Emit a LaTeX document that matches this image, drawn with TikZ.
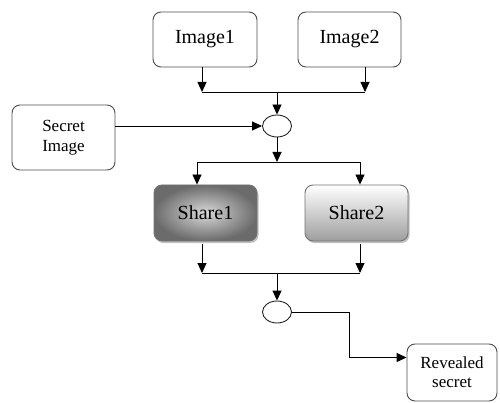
\documentclass[tikz,border=0pt]{standalone}
\usepackage{fontspec}
\setmainfont{Liberation Serif}
\newfontfamily\boxfont{Liberation Serif}
\usetikzlibrary{arrows.meta, shapes.geometric, shadows}

\begin{document}
\begin{tikzpicture}[x=1pt, y=-1pt, >={Triangle[length=10pt, width=9pt]}, line width=0.9pt,
  box/.style={draw=black!70, rounded corners=8pt, minimum width=104pt, minimum height=55pt,
    align=center, font=\boxfont\fontsize{20}{22}\selectfont},
  smallbox/.style={box, minimum width=103pt, minimum height=65pt, font=\boxfont\fontsize{17}{20}\selectfont},
  sharebox/.style={box, draw=black!55, minimum height=56pt, minimum width=103pt,
    drop shadow={shadow xshift=1.5pt, shadow yshift=-2pt, opacity=0.35, fill=black!70}},
  joint/.style={draw=black!85, ellipse, minimum width=29pt, minimum height=22pt, inner sep=0pt}]
  \useasboundingbox (0,0) rectangle (500,403);
  % cajas
  \node[box] (img1) at (205,39.5) {Image1};
  \node[box, minimum width=103pt] (img2) at (349.5,39.5) {Image2};
  \node[smallbox] (secret) at (63.5,137.5) {Secret\\Image};
  \node[joint] (xor1) at (277,126) {};
  \node[sharebox, inner color=black!15, outer color=black!58] (share1) at (205.5,213) {Share1};
  \node[sharebox, top color=white, bottom color=black!38] (share2) at (356.5,213) {Share2};
  \node[joint] (xor2) at (277,312) {};
  \node[smallbox, minimum width=90pt, minimum height=57pt, font=\boxfont\fontsize{17}{19}\selectfont] (reveal) at (452,372.5) {Revealed\\secret};
  % puntos de union
  \coordinate (a1) at (202,92);
  \coordinate (a2) at (365,92);
  \coordinate (m1) at (277,92);
  \coordinate (b1) at (197,162);
  \coordinate (b2) at (360,162);
  \coordinate (m2) at (277,162);
  \coordinate (c1) at (202,273);
  \coordinate (c2) at (360,273);
  \coordinate (m3) at (277,273);
  % flechas de arriba
  \draw[->] (a1 |- img1.south) -- (a1);
  \draw[->] (a2 |- img2.south) -- (a2);
  \draw (a1) -- (a2);
  \draw[->] (m1) -- (xor1.north);
  \draw[->] (secret.east |- xor1) -- (xor1.west);
  % reparto
  \draw[->] (xor1.south) -- (m2);
  \draw (b1) -- (b2);
  \draw[->] (b1) -- (b1 |- share1.north);
  \draw[->] (b2) -- (b2 |- share2.north);
  % union de las partes
  \draw[->, shorten <=3pt] (c1 |- share1.south) -- (c1);
  \draw[->, shorten <=3pt] (c2 |- share2.south) -- (c2);
  \draw (c1) -- (c2);
  \draw[->] (m3) -- (xor2.north);
  \draw[->] (xor2.east) -- ++(57,0) |- ([yshift=15pt]reveal.west);
\end{tikzpicture}
\end{document}
